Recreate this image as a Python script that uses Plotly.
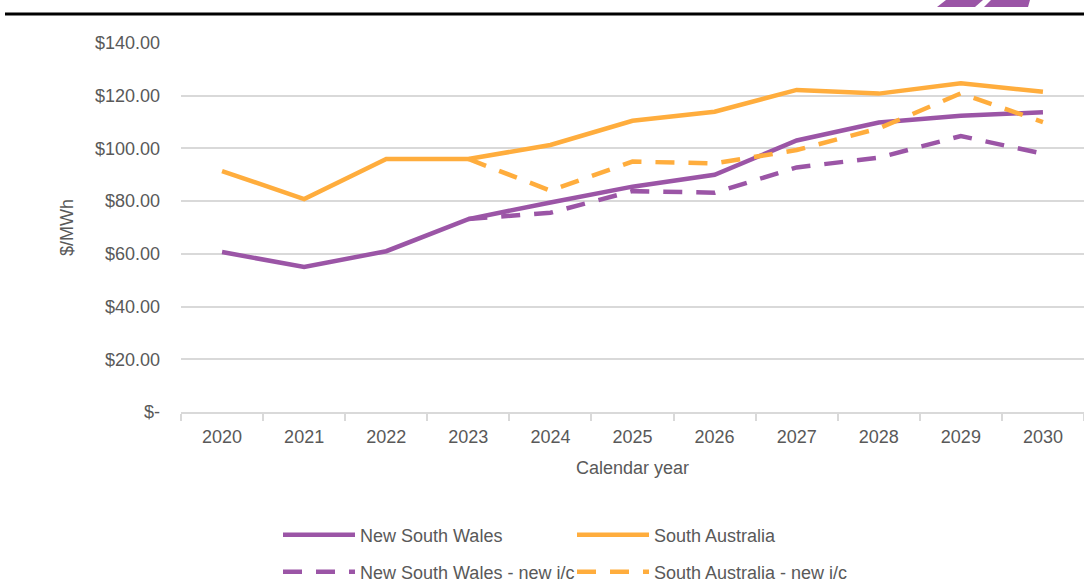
import plotly.graph_objects as go

years = ["2020", "2021", "2022", "2023", "2024", "2025", "2026", "2027", "2028", "2029", "2030"]
nsw = [60.7, 55.0, 61.0, 73.2, 79.5, 85.5, 90.0, 103.0, 109.8, 112.4, 113.7]
sa = [91.4, 80.8, 96.0, 96.0, 101.3, 110.5, 113.9, 122.2, 120.8, 124.7, 121.5]
nsw_new = [None, None, None, 73.2, 75.6, 83.8, 83.2, 92.8, 96.5, 104.7, 98.0]
sa_new = [None, None, None, 96.0, 84.0, 95.0, 94.3, 99.4, 107.6, 120.9, 110.0]

y_tickvals = [0, 20, 40, 60, 80, 100, 120, 140]
y_ticktext = ["$-", "$20.00", "$40.00", "$60.00", "$80.00", "$100.00", "$120.00", "$140.00"]

PURPLE = "#9B55A6"
ORANGE = "#FFAD3D"
TXT = "#595959"
FONT = "Liberation Sans, Arial, sans-serif"
FS = 18

W, H = 1084, 583
L, R, T, B = 181, 0, 43, 171
PW, PH = W - L - R, H - T - B


def px(x):
    return (x - L) / PW


def py(y):
    return (H - B - y) / PH


fig = go.Figure()
fig.add_trace(go.Scatter(x=years, y=nsw, name="New South Wales", mode="lines",
                         line=dict(color=PURPLE, width=4.5), legend="legend"))
fig.add_trace(go.Scatter(x=years, y=sa, name="South Australia", mode="lines",
                         line=dict(color=ORANGE, width=4.5), legend="legend2"))
fig.add_trace(go.Scatter(x=years, y=nsw_new, name="New South Wales - new i/c", mode="lines",
                         line=dict(color=PURPLE, width=4.5, dash="19px,14px"), legend="legend3"))
fig.add_trace(go.Scatter(x=years, y=sa_new, name="South Australia - new i/c", mode="lines",
                         line=dict(color=ORANGE, width=4.5, dash="19px,14px"), legend="legend4"))

legend_common = dict(orientation="h", xanchor="left", yanchor="middle",
                     font=dict(family=FONT, size=FS, color=TXT), bgcolor="rgba(0,0,0,0)",
                     itemwidth=72)
fig.update_layout(
    width=W, height=H,
    margin=dict(l=L, r=R, t=T, b=B, autoexpand=False),
    paper_bgcolor="white", plot_bgcolor="white",
    font=dict(family=FONT, size=FS, color=TXT),
    showlegend=True,
    legend=dict(x=px(278), y=py(535), **legend_common),
    legend2=dict(x=px(572), y=py(535), **legend_common),
    legend3=dict(x=px(278), y=py(572), **legend_common),
    legend4=dict(x=px(572), y=py(572), **legend_common),
    xaxis=dict(type="category", range=[-0.5, 10.5], showgrid=False,
               showline=True, linecolor="#d9d9d9", linewidth=2,
               ticks="outside", tickson="boundaries", ticklen=7, tickcolor="#d9d9d9", tickwidth=2,
               tickfont=dict(family=FONT, size=FS, color=TXT), ticklabelstandoff=7,
               title=dict(text="Calendar year", font=dict(family=FONT, size=FS, color=TXT), standoff=16)),
    yaxis=dict(range=[0, 140], tickvals=y_tickvals, ticktext=y_ticktext,
               showgrid=True, gridcolor="#d9d9d9", gridwidth=2, zeroline=False,
               tickfont=dict(family=FONT, size=FS, color=TXT), ticks="", ticklabelstandoff=20,
               title=dict(text="$/MWh", font=dict(family=FONT, size=FS, color=TXT), standoff=16)),
)

# header rule and logo marks
fig.add_shape(type="line", xref="paper", yref="paper", x0=px(5), x1=px(1084), y0=py(14), y1=py(14),
              line=dict(color="black", width=3))
for pts in [[(937, 7), (946, 0), (983, 0), (975, 7)], [(984, 7), (991, 0), (1030, 0), (1028, 7)]]:
    path = "M " + " L ".join(f"{px(a)},{py(b)}" for a, b in pts) + " Z"
    fig.add_shape(type="path", xref="paper", yref="paper", path=path,
                  fillcolor="#9B55A6", line=dict(width=0))

fig.write_html("out.html", config={"displayModeBar": False},
               post_script="document.body.style.margin='0';document.body.style.overflow='hidden';")
